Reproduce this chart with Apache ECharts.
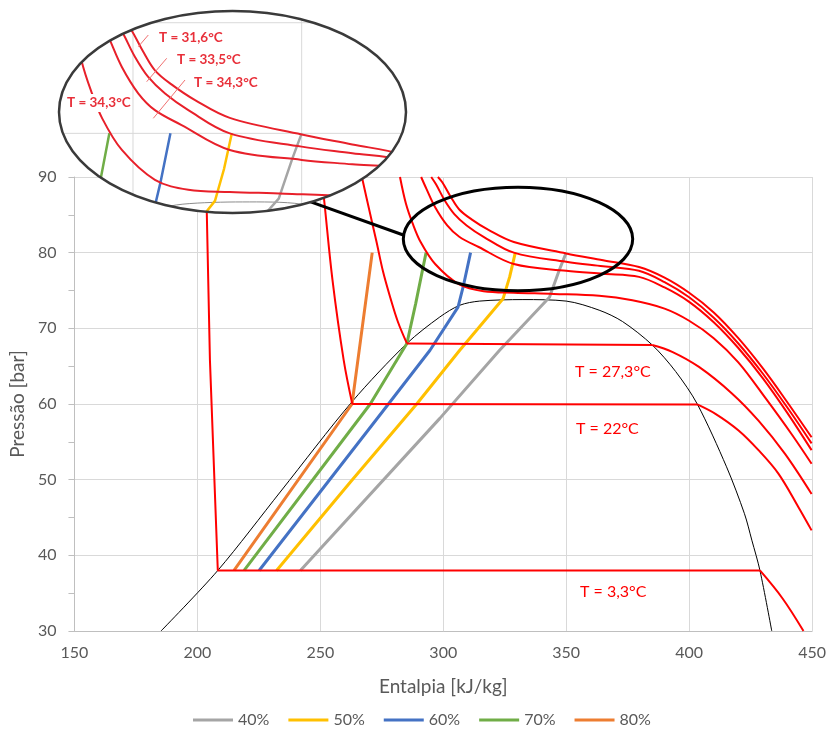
<!DOCTYPE html>
<html><head><meta charset="utf-8">
<script src="https://cdn.jsdelivr.net/npm/echarts@6/dist/echarts.min.js"></script>
<style>html,body{margin:0;padding:0;background:#fff}#c{width:829px;height:732px}</style>
</head><body><div id="c"></div>
<script>
// ---------- data (enthalpy kJ/kg, pressure bar) ----------
const LEGEND_NAMES = ['40%','50%','60%','70%','80%'];
const DOME = [[185.2,30],[208.3,38],[234,48.5],[262.9,60.3],[285.2,68],[298.6,71.5],[306.7,73.05],[314.8,73.6],[332.4,73.8],[350,73.6],[363.4,72.4],[372.9,70.9],[385,67.8],[394.5,64.3],[403.3,60.0],[415.2,51.7],[422.5,45.5],[425.5,42],[428.8,38],[433.6,30]];
const C40 = [[241.9,38],[298.6,58.1],[322.9,67.1],[343.2,74.1],[347.2,77.7],[350,80]];
const C50 = [[232.2,38],[262.5,49.8],[289.2,60],[306.7,67.1],[324.3,73.9],[327,76.8],[329.3,80]];
const C60 = [[225.1,38],[277.7,60],[294.6,67.1],[306,72.8],[308.1,75.5],[311.1,80]];
const C70 = [[219,38],[270.3,60],[285.2,68],[288.8,73.3],[293,80]];
const C80 = [[214.9,38],[262.9,60],[271.1,80]];
const RED_LOW = [[203.4,90],[203.8,85.6],[205.1,65.8],[208.3,38],[428.8,38]];
const RED_LOW_TAIL = [[428.8,38],[438,34.3],[446.5,30]];
const RED_F = [[250.4,90],[251.4,87.4],[254.9,76.5],[259.5,65.8],[263,60]];
const RED_60 = [[263,60],[403.3,59.95]];
const RED_22 = [[403.3,59.95],[410.7,58.7],[420.1,56.5],[428.2,53.9],[436.3,50.8],[444.4,46.4],[449.8,43.3]];
const RED_E = [[266.9,90],[270.0,85.5],[272.8,81.5],[275.5,77.5],[278.5,74.0],[281.5,70.9],[285.2,68.0]];
const RED_68 = [[285.2,68.0],[385,67.8]];
const RED_27 = [[385,67.8],[393.1,66.9],[404,64.9],[417.4,61.4],[428.2,57.8],[439,53.4],[449.8,48.1]];
const ISO_A = [[297.8,90],[299.6,89.3],[303.0,87.4],[306.5,85.7],[311.5,84.4],[318.4,83.0],[328.7,81.4],[350,79.9],[365,79.0],[379.6,78.1],[390,76.7],[400,74.7],[410,72.1],[420,68.7],[430,64.7],[440,60.2],[449.8,55.6]];
const ISO_B = [[295.1,90],[297.1,89.0],[300.6,86.9],[304.5,85.1],[309.5,83.6],[316.4,82.1],[328.7,80.0],[350,78.8],[365,78.2],[379.6,77.6],[390,76.1],[400,74.1],[410,71.4],[420,68.0],[430,64.0],[440,59.5],[449.8,54.8]];
const ISO_C = [[291.0,90],[293.2,88.4],[296.7,86.0],[301.6,83.6],[306.5,82.1],[314.4,80.75],[328.7,78.5],[350,77.6],[365,77.2],[379.6,76.8],[390,75.4],[400,73.5],[410,70.8],[420,67.4],[430,63.4],[440,58.8],[449.8,53.9]];
const ISO_D = [[282.4,90],[284.8,86.5],[287.5,83.9],[290.8,81.4],[296.7,78.5],[306.5,75.8],[316.4,74.9],[328.7,74.7],[345,74.55],[363.4,74.3],[376.9,73.7],[390,72.6],[400,71.0],[410,68.7],[420,65.5],[431,60.8],[441.7,56.0],[449.8,52.1]];
const X_RANGE = [150,450], Y_RANGE = [30,90];
const INSET_X = [278.07,380.92], INSET_Y = [72.80,91.06];
const INSET_XGRID = [300,350], INSET_YGRID = [80,90];
const MAIN_LABELS = [['T = 27,3°C',575,372],['T = 22°C',576,429],['T = 3,3°C',580,592]];
const INSET_LABELS = [['T = 31,6°C',159,38,false],['T = 33,5°C',177,60,false],['T = 34,3°C',194,83,false],['T = 34,3°C',66,103,true]];

// ---------- styles ----------
const FONT = 'Lato, "Open Sans", sans-serif';
const RED = '#ff0000';
const COLORS = {'40%':'#a5a5a5','50%':'#ffc000','60%':'#4472c4','70%':'#70ad47','80%':'#ed7d31'};
const coloured = [['40%',C40],['50%',C50],['60%',C60],['70%',C70],['80%',C80]];
const redCurves = [
  [RED_LOW,false],[RED_LOW_TAIL,true],[RED_F,true],[RED_60,false],[RED_22,true],
  [RED_E,true],[RED_68,false],[RED_27,true],[ISO_A,true],[ISO_B,true],[ISO_C,true],[ISO_D,true]
];

const series = [];
series.push({type:'line', name:'dome', data:DOME, smooth:0.3, symbol:'none', lineStyle:{color:'#000',width:1}, z:2, silent:true});
coloured.forEach(([n,d]) => series.push({type:'line', name:n, data:d, symbol:'none', color:COLORS[n], lineStyle:{color:COLORS[n],width:3}, z:3, silent:true}));
redCurves.forEach(([d,s],i) => series.push({type:'line', name:'r'+i, data:d, smooth:s?0.35:false, symbol:'none', lineStyle:{color:RED,width:2}, z:4, silent:true}));

function insetItem(params, api) {
  const cs = params.coordSys;
  const cx = cs.x + cs.width/2, cy = cs.y + cs.height/2, rx = cs.width/2, ry = cs.height/2;
  const kids = [{type:'ellipse', shape:{cx,cy,rx,ry}, style:{fill:'#fff'}}];
  INSET_XGRID.forEach(h => { const a = api.coord([h, INSET_Y[0]]), b = api.coord([h, INSET_Y[1]]);
    kids.push({type:'line', shape:{x1:a[0],y1:a[1],x2:b[0],y2:b[1]}, style:{stroke:'#d9d9d9',lineWidth:1}}); });
  INSET_YGRID.forEach(p => { const a = api.coord([INSET_X[0], p]), b = api.coord([INSET_X[1], p]);
    kids.push({type:'line', shape:{x1:a[0],y1:a[1],x2:b[0],y2:b[1]}, style:{stroke:'#d9d9d9',lineWidth:1}}); });
  kids.push({type:'polyline', shape:{points:DOME.map(d=>api.coord(d)), smooth:0.3}, style:{stroke:'#8c8c8c',lineWidth:1,fill:null}});
  coloured.forEach(([n,d]) => kids.push({type:'polyline', shape:{points:d.map(v=>api.coord(v))}, style:{stroke:COLORS[n],lineWidth:2.5,fill:null}}));
  redCurves.forEach(([d,s]) => kids.push({type:'polyline', shape:{points:d.map(v=>api.coord(v)), smooth:s?0.35:0}, style:{stroke:'#e8202a',lineWidth:2,fill:null}}));
  return {type:'group', children:[
    {type:'group', clipPath:{type:'ellipse', shape:{cx,cy,rx,ry}}, children:kids},
    {type:'ellipse', shape:{cx,cy,rx,ry}, style:{fill:null, stroke:'#3a3a3a', lineWidth:2.5}}
  ]};
}
series.push({type:'custom', name:'inset', coordinateSystem:'cartesian2d', xAxisIndex:1, yAxisIndex:1, data:[[300,80]], renderItem:insetItem, z:20, silent:true, clip:false});

const graphic = [
  {type:'ellipse', shape:{cx:518, cy:239, rx:114.7, ry:51.7}, style:{fill:null, stroke:'#000', lineWidth:3}, z:6, silent:true},
  {type:'line', shape:{x1:310, y1:201.7, x2:403.3, y2:235}, style:{stroke:'#000', lineWidth:3}, z:6, silent:true},
  {type:'line', shape:{x1:148.3,y1:35,x2:138.3,y2:46.7}, style:{stroke:'#f07070',lineWidth:1}, z:40, silent:true},
  {type:'line', shape:{x1:166.7,y1:58.3,x2:146.7,y2:81.7}, style:{stroke:'#f07070',lineWidth:1}, z:40, silent:true},
  {type:'line', shape:{x1:185,y1:80,x2:153.3,y2:118.3}, style:{stroke:'#f07070',lineWidth:1}, z:40, silent:true}
];
MAIN_LABELS.forEach(([t,x,y]) => graphic.push({type:'text', x, y, z:15, silent:true,
  style:{text:t, fill:RED, font:'16px '+FONT, align:'left', verticalAlign:'middle'}}));
INSET_LABELS.forEach(([t,x,y,bg]) => graphic.push({type:'text', x, y, z:41, silent:true,
  style:Object.assign({text:t, fill:'#e8303a', font:'bold 13.5px '+FONT, align:'left', verticalAlign:'middle'}, bg?{backgroundColor:'#fff', padding:[2,1]}:{})}));

const axisTxt = {color:'#595959', fontSize:16, fontFamily:FONT};
const nameTxt = {color:'#595959', fontSize:19, fontFamily:FONT};
const option = {
  animation:false,
  backgroundColor:'#fff',
  grid:[{left:73, right:15, top:177, bottom:101}, {left:59, top:11, width:347, height:202}],
  xAxis:[
    {type:'value', gridIndex:0, min:X_RANGE[0], max:X_RANGE[1], interval:50, name:'Entalpia [kJ/kg]', nameLocation:'middle', nameGap:46,
     nameTextStyle:nameTxt, axisLine:{show:true, onZero:false, lineStyle:{color:'#bfbfbf'}}, axisTick:{show:false},
     axisLabel:Object.assign({margin:14}, axisTxt), splitLine:{show:true, lineStyle:{color:'#d9d9d9'}}},
    {type:'value', gridIndex:1, min:INSET_X[0], max:INSET_X[1], show:false, splitLine:{show:false}}
  ],
  yAxis:[
    {type:'value', gridIndex:0, min:Y_RANGE[0], max:Y_RANGE[1], interval:10, name:'Pressão [bar]', nameLocation:'middle', nameGap:44,
     nameTextStyle:nameTxt, axisLine:{show:true, onZero:false, lineStyle:{color:'#bfbfbf'}},
     axisTick:{show:true, length:6, lineStyle:{color:'#bfbfbf'}}, minorTick:{show:true, splitNumber:2, length:6, lineStyle:{color:'#bfbfbf'}},
     axisLabel:Object.assign({margin:18}, axisTxt), splitLine:{show:true, lineStyle:{color:'#d9d9d9'}}},
    {type:'value', gridIndex:1, min:INSET_Y[0], max:INSET_Y[1], show:false, splitLine:{show:false}}
  ],
  legend:{data:LEGEND_NAMES, left:193, top:712, padding:0, icon:'rect', itemWidth:40, itemHeight:3, itemGap:19, textStyle:axisTxt},
  graphic:graphic,
  series:series
};
const chart = echarts.init(document.getElementById('c'));
chart.setOption(option);
</script></body></html>
